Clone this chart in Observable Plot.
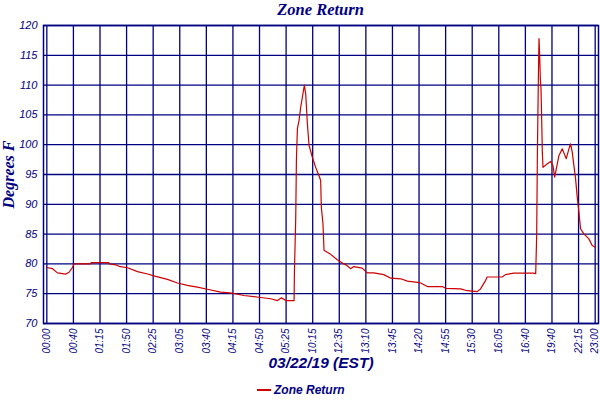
<!DOCTYPE html>
<html>
<head>
<meta charset="utf-8">
<script src="https://cdn.jsdelivr.net/npm/d3@7"></script>
<script src="https://cdn.jsdelivr.net/npm/@observablehq/plot@0.6"></script>
<style>
  html, body { margin: 0; padding: 0; background: #fff; }
  #wrap { position: relative; width: 600px; height: 400px; overflow: hidden; }
  #chart { position: absolute; left: 0; top: 10px; }
  #title { position: absolute; left: 43px; top: 0; width: 555px; height: 22px; line-height: 20px;
           text-align: center; font: italic bold 16.5px "Liberation Serif", serif; color: #000080; }
  #legend { position: absolute; left: 0; top: 382px; width: 600px; height: 16px; color: #000080;
            font: italic bold 12px "Liberation Sans", sans-serif; }
  #legend .sw { position: absolute; left: 257px; top: 7px; width: 14px; height: 2px; background: #cc0000; }
  #legend .lb { position: absolute; left: 274px; top: 0px; line-height: 16px; }
</style>
</head>
<body>
<div id="wrap">
  <div id="chart"></div>
  <div id="title"></div>
  <div id="legend"><span class="sw"></span><span class="lb"></span></div>
</div>
<script>
const chartTitle = "Zone Return";
const yLabel = "Degrees F";
const xLabel = "03/22/19 (EST)";
const seriesName = "Zone Return";

// sample position (sample number) and temperature
const samplePos = [0,1.7,3.2,5.7,6.7,7.7,8.2,13.2,13.3,18.7,18.8,20.7,21.7,24.3,27.3,30.3,32.8,36.3,39.3,42.3,45.3,48.3,52.3,55.8,59.3,63.8,67.4,69.4,70.6,71.9,74.4,
  74.5,74.9,75.1,75.4,75.9,76.4,76.9,77.5,77.9,78.4,78.9,79.9,80.9,81.9,82.4,82.6,83.1,83.4,85.4,87.4,89.4,90.4,91.4,92.4,94.9,96.4,98.4,101.4,103.5,106.5,108.5,111.5,112.5,114.5,119,120,124.5,126.5,129.5,130.5,132,132.5,137,138,140.5,146.5,
  147.1,147.4,147.6,147.9,148.1,148.3,148.5,148.7,148.9,149.1,149.3,150.6,151.6,152.3,152.8,153.6,154.1,155.1,156.3,157.1,157.6,158.1,158.6,159.1,159.6,160.1,160.6,161.6,163.1,164.1,165];
const tempF = [79.4,79.2,78.5,78.3,78.6,79.4,80.0,80.0,80.2,80.2,80.0,79.85,79.6,79.35,78.7,78.3,77.9,77.4,76.8,76.4,76.1,75.75,75.25,75.1,74.7,74.4,74.15,73.85,74.3,73.85,73.85,
  78.6,87.8,97.4,102.7,104.1,106.3,108.0,110.0,108.5,103.5,99.9,97.9,96.2,94.8,94.0,89.5,86.7,82.3,81.6,80.7,80.0,79.7,79.2,79.55,79.3,78.5,78.5,78.2,77.6,77.5,77.1,76.9,76.8,76.2,76.2,75.9,75.8,75.5,75.35,75.8,77.2,77.8,77.8,78.2,78.45,78.45,
  78.35,84.8,97.9,111.0,117.8,115.0,111.0,109.4,104.3,98.75,96.2,96.8,97.2,96.5,94.55,96.8,98.2,99.3,97.65,99.3,100.15,98.75,96.5,94.3,91.2,88.7,85.9,85.05,84.2,83.1,82.8];

// tick positions (sample numbers) and their time labels
const tickPos = [0,8,16,24,32,40,48,56,64,72,80,88,96,104,112,120,128,136,144,152,160,165];
const tickLabels = ["00:00","00:40","01:15","01:50","02:25","03:05","03:40","04:15","04:50","05:25","10:15","12:35","13:10","13:45","14:20","14:55","15:30","16:05","16:40","19:40","22:15","23:00"];
const yTicks = [70,75,80,85,90,95,100,105,110,115,120];

const data = samplePos.map((t, i) => ({t, v: tempF[i]}));
const labelOf = new Map(tickPos.map((p, i) => [p, tickLabels[i]]));

document.getElementById("title").textContent = chartTitle;
document.querySelector("#legend .lb").textContent = seriesName;

const navy = "#000080";
const chart = Plot.plot({
  width: 600,
  height: 368,
  marginTop: 15,
  marginBottom: 55,
  marginLeft: 43,
  marginRight: 2,
  style: {fontFamily: "Liberation Sans, sans-serif", fontStyle: "italic", fontSize: "10px", color: navy, background: "transparent"},
  x: {domain: [-1, 166]},
  y: {domain: [70, 120]},
  marks: [
    Plot.gridX(tickPos, {stroke: navy, strokeOpacity: 1, strokeWidth: 1.3}),
    Plot.gridY(yTicks, {stroke: navy, strokeOpacity: 1, strokeWidth: 1.3}),
    Plot.frame({stroke: navy, strokeWidth: 1.5}),
    Plot.axisX(tickPos, {tickSize: 0, tickPadding: 5, tickRotate: -90, tickFormat: d => labelOf.get(d), label: null, fill: navy}),
    Plot.axisY(yTicks, {tickSize: 0, tickPadding: 6, label: null, fill: navy, fontSize: 11}),
    Plot.line(data, {x: "t", y: "v", stroke: "#cc0000", strokeWidth: 1.2}),
    Plot.text([xLabel], {frameAnchor: "bottom", dy: 44, fill: navy, fontSize: 15.5, fontWeight: "bold", fontStyle: "italic", fontFamily: "Liberation Sans, sans-serif"}),
    Plot.text([yLabel], {frameAnchor: "left", dx: -35, rotate: -90, textAnchor: "middle", fill: navy, fontSize: 16, fontWeight: "bold", fontStyle: "italic", fontFamily: "Liberation Serif, serif"})
  ]
});
document.getElementById("chart").appendChild(chart);
</script>
</body>
</html>
